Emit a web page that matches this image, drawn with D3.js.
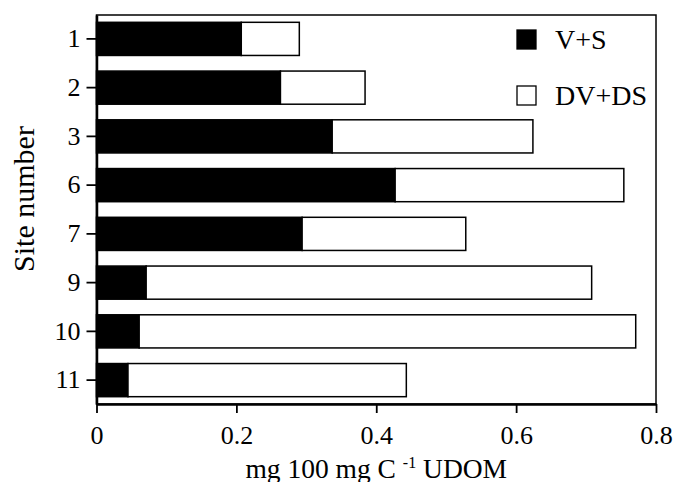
<!DOCTYPE html>
<html>
<head>
<meta charset="utf-8">
<script src="https://cdn.jsdelivr.net/npm/d3@7"></script>
<style>
body{margin:0;background:#fff;}
svg text{font-family:"Liberation Serif","Times New Roman",serif;fill:#000;}
</style>
</head>
<body>
<div id="main"></div>
<script>
// values
var sites=['1','2','3','6','7','9','10','11'];
var vs=[0.207,0.263,0.337,0.427,0.294,0.071,0.061,0.045];     // V+S
var dvds=[0.083,0.121,0.287,0.327,0.234,0.637,0.710,0.398];   // DV+DS
var xTicks=[0,0.2,0.4,0.6,0.8];
var seriesNames=['V+S','DV+DS'];

var width=673, height=482;
var plotL=96.5, plotR=656, plotT=15, plotB=404;

var rows=sites.map(function(s,i){return {site:s,vs:vs[i],dvds:dvds[i]};});
var stack=d3.stack().keys(['vs','dvds'])(rows);

var svg=d3.select('#main')
  .append('svg')
    .attr('width',width)
    .attr('height',height);

var x=d3.scaleLinear().domain([0,0.8]).range([plotL,plotR]);
var y=d3.scaleBand().domain(sites).range([plotT,plotB]).paddingInner(0.32).paddingOuter(0.15);
var fills=['#000','#fff'];

// frame
svg.append('rect')
    .attr('x',plotL).attr('y',plotT)
    .attr('width',plotR-plotL).attr('height',plotB-plotT)
    .attr('fill','none').attr('stroke','#000').attr('stroke-width',1.5);

svg.selectAll('g.layer')
    .data(stack)
  .enter().append('g')
    .attr('class','layer')
    .attr('fill',function(d,i){return fills[i]})
  .selectAll('rect')
    .data(function(d){return d})
  .enter().append('rect')
    .attr('x',function(d){return x(d[0])})
    .attr('y',function(d){return y(d.data.site)})
    .attr('width',function(d){return x(d[1])-x(d[0])})
    .attr('height',y.bandwidth())
    .attr('stroke','#000')
    .attr('stroke-width',1.5);

var xAxis=svg.append('g')
    .attr('transform','translate(0,'+plotB+')')
    .call(d3.axisBottom(x).tickValues(xTicks).tickSize(9).tickSizeOuter(0).tickPadding(13)
      .tickFormat(function(d){return d===0?'0':d3.format('.1f')(d)}));
var yAxis=svg.append('g')
    .attr('transform','translate('+plotL+',0)')
    .call(d3.axisLeft(y).tickSize(10).tickSizeOuter(0).tickPadding(6));

[xAxis,yAxis].forEach(function(a){
  a.select('.domain').attr('stroke-width',2.5);
  a.selectAll('.tick line').attr('stroke-width',1.8);
  a.selectAll('.tick text').style('font-size','26px');
});

// legend
var legend=svg.selectAll('g.legend')
    .data(seriesNames)
  .enter().append('g')
    .attr('class','legend')
    .attr('transform',function(d,i){return 'translate(517,'+(40+i*56)+')'});
legend.append('rect')
    .attr('x',0).attr('y',-10).attr('width',19).attr('height',19)
    .attr('fill',function(d,i){return fills[i]})
    .attr('stroke','#000').attr('stroke-width',1.3);
legend.append('text')
    .attr('x',38).attr('y',9)
    .style('font-size','28px')
    .text(function(d){return d});

// axis titles
svg.append('text')
    .attr('transform','translate(34,199) rotate(-90)')
    .attr('text-anchor','middle')
    .style('font-size','30px')
    .text('Site number');

var xt=svg.append('text')
    .attr('x',x(0.4)).attr('y',478)
    .attr('text-anchor','middle')
    .style('font-size','27.5px');
xt.append('tspan').text('mg 100 mg C ');
xt.append('tspan').attr('dy',-10).style('font-size','16px').text('-1');
xt.append('tspan').attr('dy',10).text(' UDOM');
</script>
</body>
</html>
